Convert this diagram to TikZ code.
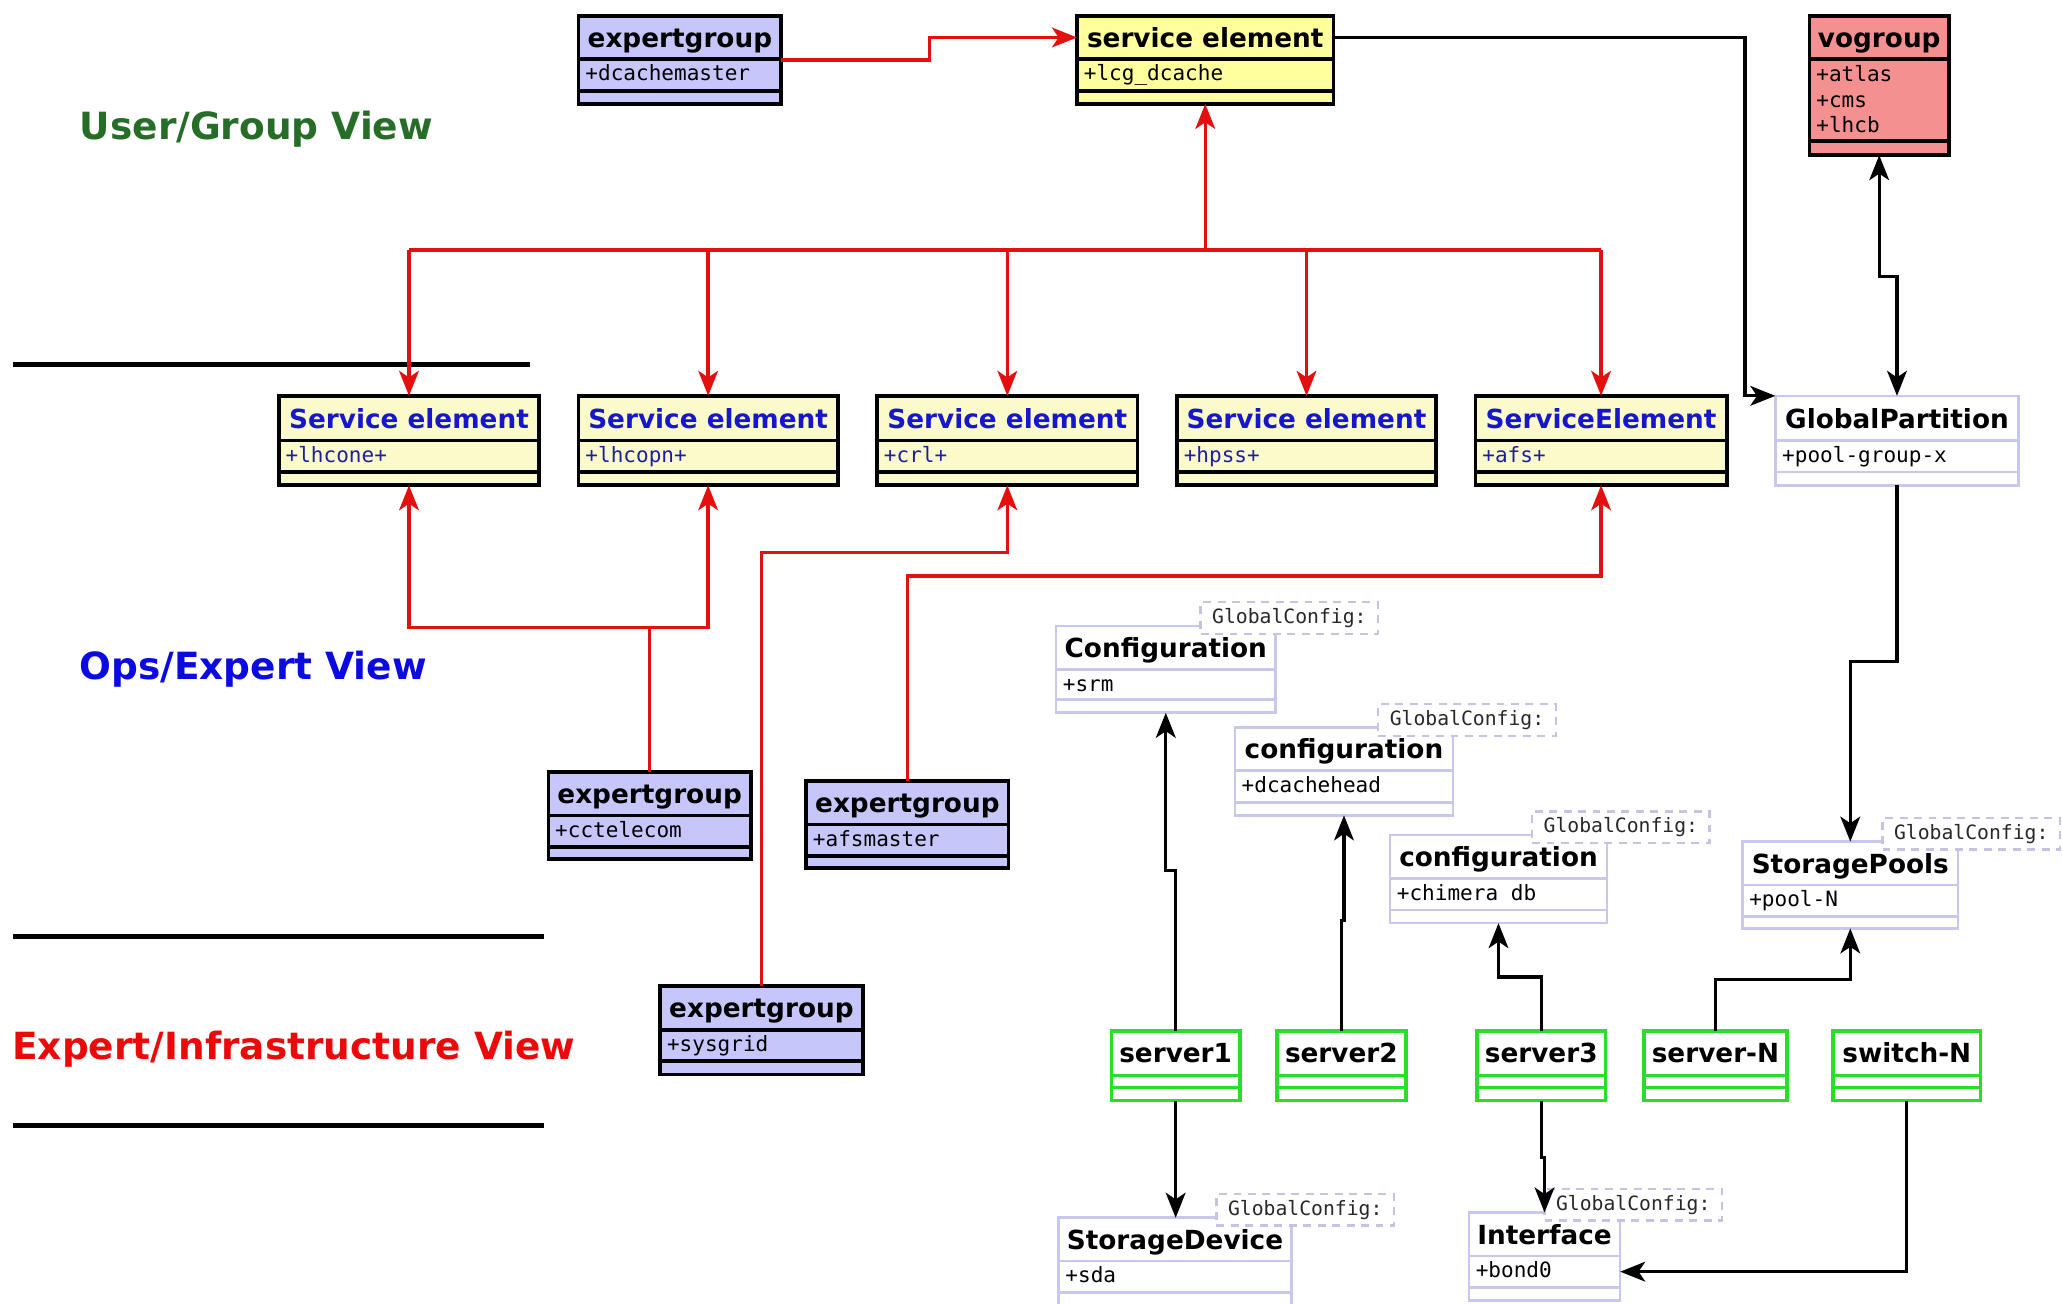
\documentclass[tikz,border=0pt]{standalone}
\usepackage{fontspec}
\setmainfont{DejaVu Sans}
\setsansfont{DejaVu Sans}
\setmonofont{DejaVu Sans Mono}
\usetikzlibrary{arrows.meta,calc}

% palette
\definecolor{egfill}{RGB}{198,198,250}
\definecolor{sefill}{RGB}{255,255,158}
\definecolor{sebfill}{RGB}{250,250,202}
\definecolor{vofill}{RGB}{244,144,144}
\definecolor{lav}{RGB}{200,200,238}
\definecolor{dashc}{RGB}{196,196,226}
\definecolor{srvgreen}{RGB}{40,222,40}
\definecolor{lnred}{RGB}{228,16,16}
\definecolor{tblue}{RGB}{22,22,205}
\definecolor{ablue}{RGB}{30,30,160}
\definecolor{vgreen}{RGB}{38,110,40}
\definecolor{vblue}{RGB}{10,10,225}
\definecolor{vred}{RGB}{235,10,10}
\definecolor{gctext}{RGB}{40,40,40}

\tikzset{
  boxbase/.style={rectangle, inner sep=0pt, outer sep=0pt},
  kEG/.style={boxbase, draw=black, line width=2.8pt, fill=egfill},
  kSE/.style={boxbase, draw=black, line width=2.8pt, fill=sefill},
  kSB/.style={boxbase, draw=black, line width=2.8pt, fill=sebfill},
  kVO/.style={boxbase, draw=black, line width=2.8pt, fill=vofill},
  kLV/.style={boxbase, draw=lav, line width=2pt, fill=white},
  kSV/.style={boxbase, draw=srvgreen, line width=2.6pt, fill=white},
  gcfg/.style={rectangle, draw=dashc, line width=1.8pt, dash pattern=on 6pt off 5pt,
    fill=white, minimum width=135pt, minimum height=24pt, inner sep=0pt,
    font=\ttfamily\fontsize{15}{18}\selectfont, text=gctext},
  ttl/.style={inner sep=0pt, font=\sffamily\bfseries\fontsize{20}{24}\selectfont, text=black},
  ttlb/.style={ttl, text=tblue},
  att/.style={inner sep=0pt, font=\ttfamily\fontsize{16}{19}\selectfont, text=black},
  attb/.style={att, text=ablue},
  viewlbl/.style={inner sep=0pt, font=\sffamily\bfseries\fontsize{28.5}{34}\selectfont},
  tipk/.style={-{Stealth[length=19pt,width=15pt,inset=5pt]}},
  rline/.style={draw=lnred, line width=2.6pt},
  rarr/.style={rline, tipk},
  kline/.style={draw=black, line width=2.5pt},
  karr/.style={kline, tipk},
  kdbl/.style={kline, {Stealth[length=19pt,width=15pt,inset=5pt]}-{Stealth[length=19pt,width=15pt,inset=5pt]}},
}

% class box: name, style, x1, y1, x2, y2, first separator, second separator
\newcommand{\umlclass}[8]{%
  \node[#2, minimum width={(#5-#3)*1pt}, minimum height={(#6-#4)*1pt}] (#1) at ({(#3+#5)/2},{(#4+#6)/2}) {};
  \draw[#2, fill=none] (#3,#7) -- (#5,#7) (#3,#8) -- (#5,#8);
}
% title and one attribute: name, title style, x1, x2, first separator, title, attribute style, attribute
\newcommand{\umltext}[8]{%
  \node[#2, anchor=base] (#1-t) at ({(#3+#4)/2},{#5-9}) {#6};
  \node[#7, anchor=base west] (#1-a) at ({#3+5},{#5+16.5}) {#8};
}

\begin{document}
\begin{tikzpicture}[x=1pt,y=-1pt]
\clip (0,0) rectangle (1568,991);
\fill[white] (0,0) rectangle (1568,991);

% view labels and separators
\node[viewlbl, text=vgreen] (lblUser) at (195,98) {User/Group View};
\node[viewlbl, text=vblue] (lblOps) at (192.5,509) {Ops/Expert View};
\node[viewlbl, text=vred] (lblInfra) at (223.5,798) {Expert/Infrastructure View};
\draw[line width=4pt] (10,277) -- (403,277);
\draw[line width=4pt] (10,712) -- (414,712);
\draw[line width=4pt] (10,856) -- (414,856);

% user / group level
\umlclass{eg1}{kEG}{440}{12}{594}{79}{45}{69}
\umltext{eg1}{ttl}{440}{594}{45}{expertgroup}{att}{+dcachemaster}
\umlclass{se0}{kSE}{819}{12}{1014}{79}{45}{69}
\umltext{se0}{ttl}{819}{1014}{45}{service element}{att}{+lcg\_dcache}
\umlclass{vo}{kVO}{1376}{12}{1482}{118}{45}{107}
\node[ttl, anchor=base] (vo-t) at (1429,36) {vogroup};
\node[att, anchor=base west] (vo-a1) at (1381,62) {+atlas};
\node[att, anchor=base west] (vo-a2) at (1381,81.5) {+cms};
\node[att, anchor=base west] (vo-a3) at (1381,101) {+lhcb};

% service elements
\umlclass{se1}{kSB}{212}{301}{410}{369}{335}{359}
\umltext{se1}{ttlb}{212}{410}{335}{Service element}{attb}{+lhcone+}
\umlclass{se2}{kSB}{440}{301}{637}{369}{335}{359}
\umltext{se2}{ttlb}{440}{637}{335}{Service element}{attb}{+lhcopn+}
\umlclass{se3}{kSB}{667}{301}{865}{369}{335}{359}
\umltext{se3}{ttlb}{667}{865}{335}{Service element}{attb}{+crl+}
\umlclass{se4}{kSB}{895}{301}{1092}{369}{335}{359}
\umltext{se4}{ttlb}{895}{1092}{335}{Service element}{attb}{+hpss+}
\umlclass{se5}{kSB}{1122}{301}{1313}{369}{335}{359}
\umltext{se5}{ttlb}{1122}{1313}{335}{ServiceElement}{attb}{+afs+}
\umlclass{gp}{kLV}{1350}{301}{1535}{369}{335}{359}
\umltext{gp}{ttl}{1350}{1535}{335}{GlobalPartition}{att}{+pool-group-x}

% expert groups
\umlclass{eg2}{kEG}{417}{587}{571}{653}{620}{644}
\umltext{eg2}{ttl}{417}{571}{620}{expertgroup}{att}{+cctelecom}
\umlclass{eg3}{kEG}{613}{594}{767}{660}{627}{651}
\umltext{eg3}{ttl}{613}{767}{627}{expertgroup}{att}{+afsmaster}
\umlclass{eg4}{kEG}{502}{750}{656}{817}{783}{807}
\umltext{eg4}{ttl}{502}{656}{783}{expertgroup}{att}{+sysgrid}

% configurations
\umlclass{c1}{kLV}{803}{476}{970}{542}{509}{532}
\umltext{c1}{ttl}{803}{970}{509}{Configuration}{att}{+srm}
\umlclass{c2}{kLV}{939}{553}{1105}{620}{586}{610}
\umltext{c2}{ttl}{939}{1105}{586}{configuration}{att}{+dcachehead}
\umlclass{c3}{kLV}{1057}{635}{1222}{702}{668}{692}
\umltext{c3}{ttl}{1057}{1222}{668}{configuration}{att}{+chimera db}
\umlclass{sp}{kLV}{1325}{640}{1489}{706}{673}{697}
\umltext{sp}{ttl}{1325}{1489}{673}{StoragePools}{att}{+pool-N}

% servers and switch
\umlclass{s1}{kSV}{845}{784}{943}{837}{818}{827}
\node[ttl, anchor=base] (s1-t) at (894,808) {server1};
\umlclass{s2}{kSV}{971}{784}{1069}{837}{818}{827}
\node[ttl, anchor=base] (s2-t) at (1020,808) {server2};
\umlclass{s3}{kSV}{1123}{784}{1221}{837}{818}{827}
\node[ttl, anchor=base] (s3-t) at (1172,808) {server3};
\umlclass{sN}{kSV}{1250}{784}{1359}{837}{818}{827}
\node[ttl, anchor=base] (sN-t) at (1304.5,808) {server-N};
\umlclass{swN}{kSV}{1394}{784}{1506}{837}{818}{827}
\node[ttl, anchor=base] (swN-t) at (1450,808) {switch-N};

% devices
\umlclass{sd}{kLV}{805}{926}{982}{1002}{959}{983}
\umltext{sd}{ttl}{805}{982}{959}{StorageDevice}{att}{+sda}
\umlclass{ifc}{kLV}{1117}{922}{1232}{989}{955}{979}
\umltext{ifc}{ttl}{1117}{1232}{955}{Interface}{att}{+bond0}

% template tags
\node[gcfg] (gc1) at (980.5,470) {GlobalConfig:};
\node[gcfg] (gc2) at (1115.5,547.5) {GlobalConfig:};
\node[gcfg] (gc3) at (1232.5,629) {GlobalConfig:};
\node[gcfg] (gc4) at (1499,634) {GlobalConfig:};
\node[gcfg] (gc5) at (992.5,920) {GlobalConfig:};
\node[gcfg] (gc6) at (1242,916) {GlobalConfig:};

% red links
\draw[rarr] (eg1.east) -- (707,45.5) |- (se0.west |- 0,28.5);
\draw[rline] (se1.north |- 0,190) -- (se5.north |- 0,190);
\draw[rarr] (se0.south |- 0,190) -- (se0.south);
\foreach \s in {se1,se2,se3,se4,se5}
  \draw[rarr] (\s.north |- 0,190) -- (\s.north);
\coordinate (jcc) at (eg2.north |- 0,477);
\draw[rarr] (eg2.north) -- (jcc) -| (se1.south);
\draw[rarr] (jcc) -| (se2.south);
\draw[rarr] (eg4.north) |- (se3.south |- 0,420) -- (se3.south);
\draw[rarr] (eg3.north) |- (se5.south |- 0,438) -- (se5.south);

% black links
\draw[karr] (se0.east |- 0,28.5) -| (1327,200) |- (gp.north west);
\draw[kdbl] (vo.south) -- ++(0,92) -| (gp.north);
\draw[karr] (gp.south) |- (sp.north |- 0,503) -- (sp.north);
\draw[karr] (s1.north) |- (c1.south |- 0,662) -- (c1.south);
\draw[karr] (s2.north) |- (c2.south |- 0,700) -- (c2.south);
\draw[karr] (s3.north) |- (c3.south |- 0,743) -- (c3.south);
\draw[karr] (sN.north) |- (sp.south |- 0,745) -- (sp.south);
\draw[karr] (s1.south) -- (s1.south |- sd.north);
\draw[karr] (s3.south) |- (ifc.north |- 0,880) -- (ifc.north);
\draw[karr] (swN.south) |- (ifc.east |- 0,967);
\end{tikzpicture}
\end{document}
